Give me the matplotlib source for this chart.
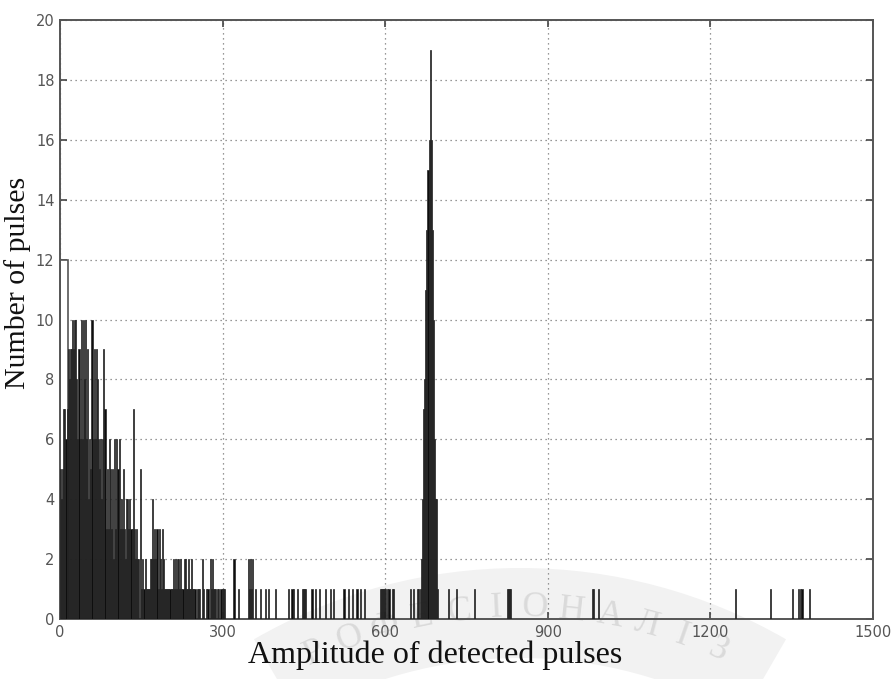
import numpy as np
import matplotlib
matplotlib.use("Agg")
import matplotlib.pyplot as plt
from matplotlib.patches import Wedge

# Dense low-amplitude part: 2-unit bins starting at 0
low_bin_width = 2
low_counts = [
    5, 4, 5, 7, 7, 6, 7, 9, 8, 9, 9, 10, 9, 10, 10, 8, 6, 9, 6, 10,
    6, 10, 8, 10, 6, 9, 4, 6, 5, 10, 6, 9, 6, 9, 8, 6, 5, 6, 4, 6,
    9, 7, 3, 5, 3, 6, 5, 3, 5, 2, 6, 3, 6, 5, 6, 3, 4, 3, 5, 3,
    2, 4, 4, 3, 4, 3, 3, 7, 3, 2, 3, 2, 2, 0, 5,
    1, 2, 1, 2, 1, 1, 1, 1, 2, 2, 4, 2, 3, 2, 3, 1, 3, 2, 1, 3,
    2, 1, 1, 1, 1, 1, 1, 1, 1, 2, 1, 2, 1, 2, 2, 1, 2, 1, 1, 2,
    2, 1, 1, 2, 1, 1, 2, 1, 1, 1, 0, 1, 1, 1, 0, 0, 2, 1, 0, 0,
    1, 1, 0, 2, 1, 2, 1, 1, 1, 0, 1, 1, 0, 1, 1, 1, 1, 0,
]

# Wide first bin drawn as an outline behind the fine bins
wide_bin_left = 0
wide_bin_width = 15
wide_bin_count = 12

# Isolated pulses above the dense region
sparse_amplitudes = [
    320, 329, 347, 349, 351, 353, 355, 360, 369, 378, 384, 397, 421, 427,
    430, 437, 446, 448, 450, 452, 464, 470, 477, 489, 498, 504, 523, 532,
    538, 547, 554, 560, 590, 592, 594, 596, 598, 600, 604, 606, 612, 615,
    645, 652, 659, 661, 716, 731, 763, 824, 826, 828, 830, 981, 983, 993,
    1245, 1310, 1350, 1362, 1365, 1368, 1381,
]
sparse_counts = [
    2, 1, 2, 1, 2, 1, 2, 1, 1, 1, 1, 1, 1, 1,
    1, 1, 1, 1, 1, 1, 1, 1, 1, 1, 1, 1, 1, 1,
    1, 1, 1, 1, 1, 1, 1, 1, 1, 1, 1, 1, 1, 1,
    1, 1, 1, 1, 1, 1, 1, 1, 1, 1, 1, 1, 1, 1,
    1, 1, 1, 1, 1, 1, 1,
]

# Main peak around amplitude 680
peak_start = 664
peak_counts = [1, 2, 4, 7, 8, 11, 13, 15, 16, 19, 16, 13, 10, 6, 4, 4, 1]

x_ticks = [0, 300, 600, 900, 1200, 1500]
y_ticks = list(range(0, 21, 2))

seal_text = "ПРОФЕСІОНАЛІЗМ"

W, H = 894, 679
fig = plt.figure(figsize=(W / 100, H / 100), dpi=100)

# Faint seal stamp in the background (pixel coordinates, y upwards)
bg = fig.add_axes([0, 0, 1, 1], zorder=0)
bg.set_xlim(0, W)
bg.set_ylim(0, H)
bg.axis("off")
cx, cy = 520, H - 1100
bg.add_patch(Wedge((cx, cy), 532, 60, 120, width=90,
                   facecolor="#f2f2f2", edgecolor="none"))
r_txt = 492
for i, ch in enumerate(seal_text[1:-1], start=1):
    phi = 90.5 + (6.5 - i) * 4.4
    a = np.deg2rad(phi)
    bg.text(cx + r_txt * np.cos(a), cy + r_txt * np.sin(a), ch,
            rotation=phi - 90, rotation_mode="anchor", ha="center",
            va="center", fontsize=26, family="Liberation Serif",
            color="#dadada")

ax = fig.add_axes([60 / W, 60 / H, 813 / W, 599 / H], zorder=1)
ax.patch.set_alpha(0)

face = "#0e0e0e"
edge = "#262626"

ax.bar(wide_bin_left, wide_bin_count, width=wide_bin_width, align="edge",
       facecolor="white", edgecolor="#555555", linewidth=1.2, zorder=2)

low_left = np.arange(len(low_counts)) * low_bin_width
ax.bar(low_left, low_counts, width=low_bin_width, align="edge",
       facecolor=face, edgecolor=edge, linewidth=0.5, zorder=3)

ax.bar(sparse_amplitudes, sparse_counts, width=low_bin_width, align="edge",
       facecolor=face, edgecolor=edge, linewidth=0.5, zorder=3)

peak_left = peak_start + np.arange(len(peak_counts)) * low_bin_width
ax.bar(peak_left, peak_counts, width=low_bin_width, align="edge",
       facecolor=face, edgecolor=edge, linewidth=0.5, zorder=3)

ax.set_xlim(0, 1500)
ax.set_ylim(0, 20)
ax.set_xticks(x_ticks)
ax.set_yticks(y_ticks)
ax.grid(True, linestyle=(0, (1, 3)), color="#777777", linewidth=0.9, zorder=1)
ax.set_axisbelow(True)

ax.tick_params(direction="in", length=5, width=1.2, color="#444444",
               top=True, right=True, labelsize=10.5, labelcolor="#555555", pad=4)
for s in ax.spines.values():
    s.set_color("#555555")
    s.set_linewidth(1.4)

fig.text(435 / W, 1 - 655 / H, "Amplitude of detected pulses",
         family="Liberation Serif", fontsize=23, color="#111111",
         ha="center", va="center", zorder=5)
fig.text(18 / W, 1 - 283 / H, "Number of pulses", rotation=90,
         family="Liberation Serif", fontsize=21.5, color="#111111",
         ha="center", va="center", zorder=5)

fig.savefig("out.png", dpi=100)
